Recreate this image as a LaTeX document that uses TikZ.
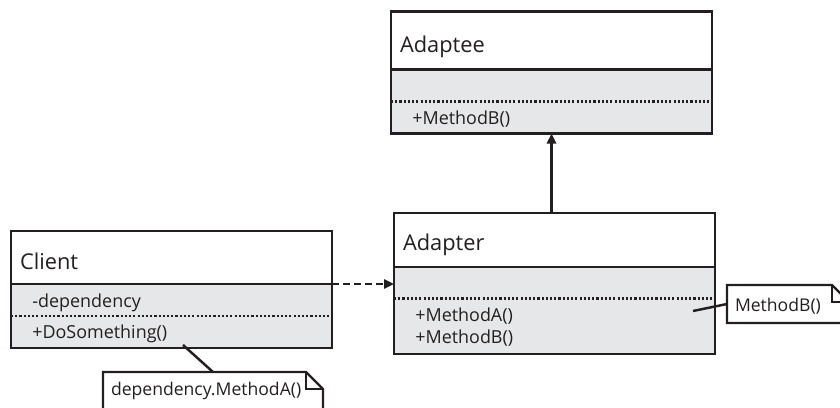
\documentclass[tikz,border=0pt]{standalone}
\usepackage{fontspec}
\setsansfont{Open Sans}
\usetikzlibrary{arrows.meta,positioning}
\definecolor{umlink}{RGB}{35,31,32}
\definecolor{umlfill}{RGB}{230,231,232}
\newcommand{\notefold}[1]{%
  \draw[notedge] (#1.north west) -- ([xshift=-0.34cm]#1.north east)
    -- ([yshift=-0.34cm]#1.north east) -- (#1.south east) -- (#1.south west) -- cycle;
  \draw[notedge] ([xshift=-0.34cm]#1.north east) |- ([yshift=-0.34cm]#1.north east);}

\begin{document}
\begin{tikzpicture}[
    headbox/.style={draw=umlink, fill=white, line width=1.4pt, anchor=north west,
                    text width=6.06cm, align=left, inner xsep=0.18cm, inner ysep=0pt,
                    outer sep=0pt, font=\sffamily\fontsize{12.4}{14}\selectfont, text=umlink},
    bodybox/.style={draw=umlink, fill=umlfill, line width=1.4pt, minimum width=6.42cm,
                    outer sep=0pt},
    member/.style={anchor=base west, inner sep=0pt,
                   font=\sffamily\fontsize{10.2}{12}\selectfont, text=umlink},
    sep/.style={umlink, line width=1.2pt, dash pattern=on 1.2pt off 1.2pt},
    note/.style={anchor=north west, align=left, inner xsep=0.16cm, inner ysep=0pt,
                 outer sep=0pt, font=\sffamily\fontsize{10}{12}\selectfont, text=umlink},
    notedge/.style={umlink, line width=1.4pt},
    arrow/.style={-{Triangle[length=0.2cm,width=0.18cm]}, umlink, line width=1.4pt},
    dep/.style={arrow, dash pattern=on 0.14cm off 0.08cm}
]
\useasboundingbox (0,0) rectangle (16.8,-8.14);
\clip (0,0) rectangle (16.8,-8.14);

\node[headbox, text height=0.82cm, text depth=0.34cm] (E) at (7.82,-0.23) {Adaptee};
\node[bodybox, minimum height=1.28cm, below=0pt of E] (Eb) {};

\node[headbox, text height=0.74cm, text depth=0.34cm] (R) at (7.88,-4.26) {Adapter};
\node[bodybox, minimum height=1.74cm, below=0pt of R] (Rb) {};

\node[headbox, text height=0.76cm, text depth=0.30cm] (C) at (0.22,-4.62) {Client};
\node[bodybox, minimum height=1.28cm, below=0pt of C] (Cb) {};

\node[member] (Em) at ([shift={(0.42,-1.10)}]Eb.north west) {+MethodB()};
\node[member] (Ra) at ([shift={(0.42,-1.08)}]Rb.north west) {+MethodA()};
\node[member] (Rm) at ([shift={(0.42,-1.52)}]Rb.north west) {+MethodB()};
\node[member] (Cd) at ([shift={(0.42,-0.46)}]Cb.north west) {-dependency};
\node[member] (Co) at ([shift={(0.42,-1.08)}]Cb.north west) {+DoSomething()};

\draw[sep] ([yshift=-0.64cm]Eb.north west) -- ([yshift=-0.64cm]Eb.north east);
\draw[sep] ([yshift=-0.63cm]Rb.north west) -- ([yshift=-0.63cm]Rb.north east);
\draw[sep] ([yshift=-0.64cm]Cb.north west) -- ([yshift=-0.64cm]Cb.north east);

\node[note, text width=2.12cm, text height=0.52cm, text depth=0.24cm] (N2) at (14.54,-5.70) {MethodB()};
\node[note, text width=4.08cm, text height=0.46cm, text depth=0.80cm] (N1) at (2.06,-7.44) {dependency.MethodA()};
\notefold{N1}
\notefold{N2}

\coordinate (dsref) at (3.66,-6.90);
\coordinate (mbref) at (13.86,-6.22);

\draw[arrow] (R.north -| Eb.south) -- (Eb.south);
\draw[dep] (C.south east) -- (C.south east -| Rb.west);
\draw[notedge] (dsref) -- (N1.north);
\draw[notedge] (mbref) -- (N2.west);
\end{tikzpicture}
\end{document}
